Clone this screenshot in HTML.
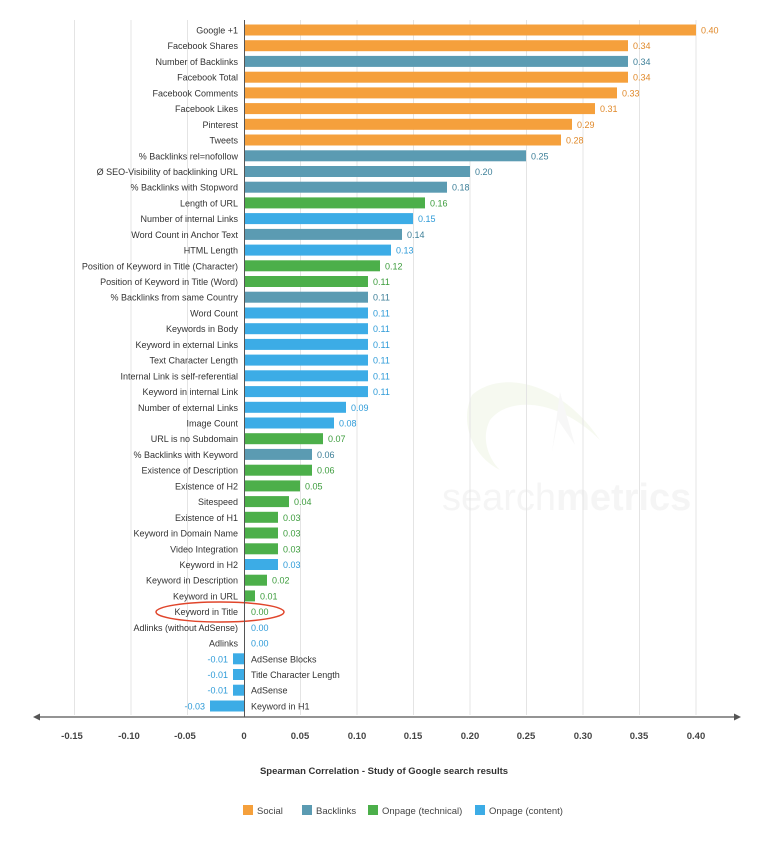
<!DOCTYPE html>
<html><head><meta charset="utf-8"><style>
html,body{margin:0;padding:0;background:#fff;}
svg{display:block;font-family:"Liberation Sans","DejaVu Sans",sans-serif;}
.l{font-size:9px;fill:#333;text-anchor:end}
.r{font-size:9px;fill:#333}
.vs{font-size:9px;fill:#e0892a}
.vb{font-size:9px;fill:#3d7f98}
.vg{font-size:9px;fill:#3c9c3c}
.vc{font-size:9px;fill:#2e9bd8}
.s{fill:#f5a03c}.b{fill:#5b9bb2}.g{fill:#4caf4a}.c{fill:#3cace6}
</style></head><body>
<svg width="768" height="850" viewBox="0 0 768 850">
<g opacity="0.35">
<path d="M472,395 C500,370 560,380 600,440 C560,400 510,395 490,420 C480,440 490,460 500,470 C470,455 460,420 472,395Z" fill="#e6efd6"/>
<path d="M560,392 L575,445 L558,420 L552,452 Z" fill="#eaeaea"/>
<text x="442" y="510" font-size="38" fill="#e4e4e4" font-family="Liberation Sans,sans-serif">search<tspan font-weight="bold">metrics</tspan></text>
</g>
<g stroke="#e4e4e4" stroke-width="1">
<line x1="74.5" y1="20" x2="74.5" y2="715"/><line x1="131" y1="20" x2="131" y2="715"/><line x1="187.5" y1="20" x2="187.5" y2="715"/>
<line x1="300.5" y1="20" x2="300.5" y2="715"/><line x1="357" y1="20" x2="357" y2="715"/><line x1="413.5" y1="20" x2="413.5" y2="715"/>
<line x1="470" y1="20" x2="470" y2="715"/><line x1="526.5" y1="20" x2="526.5" y2="715"/><line x1="583" y1="20" x2="583" y2="715"/>
<line x1="639.5" y1="20" x2="639.5" y2="715"/><line x1="696" y1="20" x2="696" y2="715"/>
</g>
<g>
<g transform="translate(0,30)"><text class="l" x="238" y="3.5">Google +1</text><rect class="s" x="244" y="-5.5" width="452" height="11"/><text class="vs" x="701" y="3.5">0.40</text></g>
<g transform="translate(0,45.7)"><text class="l" x="238" y="3.5">Facebook Shares</text><rect class="s" x="244" y="-5.5" width="384" height="11"/><text class="vs" x="633" y="3.5">0.34</text></g>
<g transform="translate(0,61.4)"><text class="l" x="238" y="3.5">Number of Backlinks</text><rect class="b" x="244" y="-5.5" width="384" height="11"/><text class="vb" x="633" y="3.5">0.34</text></g>
<g transform="translate(0,77.2)"><text class="l" x="238" y="3.5">Facebook Total</text><rect class="s" x="244" y="-5.5" width="384" height="11"/><text class="vs" x="633" y="3.5">0.34</text></g>
<g transform="translate(0,92.9)"><text class="l" x="238" y="3.5">Facebook Comments</text><rect class="s" x="244" y="-5.5" width="373" height="11"/><text class="vs" x="622" y="3.5">0.33</text></g>
<g transform="translate(0,108.6)"><text class="l" x="238" y="3.5">Facebook Likes</text><rect class="s" x="244" y="-5.5" width="351" height="11"/><text class="vs" x="600" y="3.5">0.31</text></g>
<g transform="translate(0,124.3)"><text class="l" x="238" y="3.5">Pinterest</text><rect class="s" x="244" y="-5.5" width="328" height="11"/><text class="vs" x="577" y="3.5">0.29</text></g>
<g transform="translate(0,140)"><text class="l" x="238" y="3.5">Tweets</text><rect class="s" x="244" y="-5.5" width="317" height="11"/><text class="vs" x="566" y="3.5">0.28</text></g>
<g transform="translate(0,155.8)"><text class="l" x="238" y="3.5">% Backlinks rel=nofollow</text><rect class="b" x="244" y="-5.5" width="282" height="11"/><text class="vb" x="531" y="3.5">0.25</text></g>
<g transform="translate(0,171.5)"><text class="l" x="238" y="3.5">Ø SEO-Visibility of backlinking URL</text><rect class="b" x="244" y="-5.5" width="226" height="11"/><text class="vb" x="475" y="3.5">0.20</text></g>
<g transform="translate(0,187.2)"><text class="l" x="238" y="3.5">% Backlinks with Stopword</text><rect class="b" x="244" y="-5.5" width="203" height="11"/><text class="vb" x="452" y="3.5">0.18</text></g>
<g transform="translate(0,202.9)"><text class="l" x="238" y="3.5">Length of URL</text><rect class="g" x="244" y="-5.5" width="181" height="11"/><text class="vg" x="430" y="3.5">0.16</text></g>
<g transform="translate(0,218.6)"><text class="l" x="238" y="3.5">Number of internal Links</text><rect class="c" x="244" y="-5.5" width="169" height="11"/><text class="vc" x="418" y="3.5">0.15</text></g>
<g transform="translate(0,234.4)"><text class="l" x="238" y="3.5">Word Count in Anchor Text</text><rect class="b" x="244" y="-5.5" width="158" height="11"/><text class="vb" x="407" y="3.5">0.14</text></g>
<g transform="translate(0,250.1)"><text class="l" x="238" y="3.5">HTML Length</text><rect class="c" x="244" y="-5.5" width="147" height="11"/><text class="vc" x="396" y="3.5">0.13</text></g>
<g transform="translate(0,265.8)"><text class="l" x="238" y="3.5">Position of Keyword in Title (Character)</text><rect class="g" x="244" y="-5.5" width="136" height="11"/><text class="vg" x="385" y="3.5">0.12</text></g>
<g transform="translate(0,281.5)"><text class="l" x="238" y="3.5">Position of Keyword in Title (Word)</text><rect class="g" x="244" y="-5.5" width="124" height="11"/><text class="vg" x="373" y="3.5">0.11</text></g>
<g transform="translate(0,297.2)"><text class="l" x="238" y="3.5">% Backlinks from same Country</text><rect class="b" x="244" y="-5.5" width="124" height="11"/><text class="vb" x="373" y="3.5">0.11</text></g>
<g transform="translate(0,313)"><text class="l" x="238" y="3.5">Word Count</text><rect class="c" x="244" y="-5.5" width="124" height="11"/><text class="vc" x="373" y="3.5">0.11</text></g>
<g transform="translate(0,328.7)"><text class="l" x="238" y="3.5">Keywords in Body</text><rect class="c" x="244" y="-5.5" width="124" height="11"/><text class="vc" x="373" y="3.5">0.11</text></g>
<g transform="translate(0,344.4)"><text class="l" x="238" y="3.5">Keyword in external Links</text><rect class="c" x="244" y="-5.5" width="124" height="11"/><text class="vc" x="373" y="3.5">0.11</text></g>
<g transform="translate(0,360.1)"><text class="l" x="238" y="3.5">Text Character Length</text><rect class="c" x="244" y="-5.5" width="124" height="11"/><text class="vc" x="373" y="3.5">0.11</text></g>
<g transform="translate(0,375.8)"><text class="l" x="238" y="3.5">Internal Link is self-referential</text><rect class="c" x="244" y="-5.5" width="124" height="11"/><text class="vc" x="373" y="3.5">0.11</text></g>
<g transform="translate(0,391.6)"><text class="l" x="238" y="3.5">Keyword in internal Link</text><rect class="c" x="244" y="-5.5" width="124" height="11"/><text class="vc" x="373" y="3.5">0.11</text></g>
<g transform="translate(0,407.3)"><text class="l" x="238" y="3.5">Number of external Links</text><rect class="c" x="244" y="-5.5" width="102" height="11"/><text class="vc" x="351" y="3.5">0.09</text></g>
<g transform="translate(0,423)"><text class="l" x="238" y="3.5">Image Count</text><rect class="c" x="244" y="-5.5" width="90" height="11"/><text class="vc" x="339" y="3.5">0.08</text></g>
<g transform="translate(0,438.7)"><text class="l" x="238" y="3.5">URL is no Subdomain</text><rect class="g" x="244" y="-5.5" width="79" height="11"/><text class="vg" x="328" y="3.5">0.07</text></g>
<g transform="translate(0,454.4)"><text class="l" x="238" y="3.5">% Backlinks with Keyword</text><rect class="b" x="244" y="-5.5" width="68" height="11"/><text class="vb" x="317" y="3.5">0.06</text></g>
<g transform="translate(0,470.2)"><text class="l" x="238" y="3.5">Existence of Description</text><rect class="g" x="244" y="-5.5" width="68" height="11"/><text class="vg" x="317" y="3.5">0.06</text></g>
<g transform="translate(0,485.9)"><text class="l" x="238" y="3.5">Existence of H2</text><rect class="g" x="244" y="-5.5" width="56" height="11"/><text class="vg" x="305" y="3.5">0.05</text></g>
<g transform="translate(0,501.6)"><text class="l" x="238" y="3.5">Sitespeed</text><rect class="g" x="244" y="-5.5" width="45" height="11"/><text class="vg" x="294" y="3.5">0.04</text></g>
<g transform="translate(0,517.3)"><text class="l" x="238" y="3.5">Existence of H1</text><rect class="g" x="244" y="-5.5" width="34" height="11"/><text class="vg" x="283" y="3.5">0.03</text></g>
<g transform="translate(0,533)"><text class="l" x="238" y="3.5">Keyword in Domain Name</text><rect class="g" x="244" y="-5.5" width="34" height="11"/><text class="vg" x="283" y="3.5">0.03</text></g>
<g transform="translate(0,548.8)"><text class="l" x="238" y="3.5">Video Integration</text><rect class="g" x="244" y="-5.5" width="34" height="11"/><text class="vg" x="283" y="3.5">0.03</text></g>
<g transform="translate(0,564.5)"><text class="l" x="238" y="3.5">Keyword in H2</text><rect class="c" x="244" y="-5.5" width="34" height="11"/><text class="vc" x="283" y="3.5">0.03</text></g>
<g transform="translate(0,580.2)"><text class="l" x="238" y="3.5">Keyword in Description</text><rect class="g" x="244" y="-5.5" width="23" height="11"/><text class="vg" x="272" y="3.5">0.02</text></g>
<g transform="translate(0,595.9)"><text class="l" x="238" y="3.5">Keyword in URL</text><rect class="g" x="244" y="-5.5" width="11" height="11"/><text class="vg" x="260" y="3.5">0.01</text></g>
<g transform="translate(0,611.6)"><text class="l" x="238" y="3.5">Keyword in Title</text><text class="vg" x="251" y="3.5">0.00</text></g>
<g transform="translate(0,627.4)"><text class="l" x="238" y="3.5">Adlinks (without AdSense)</text><text class="vc" x="251" y="3.5">0.00</text></g>
<g transform="translate(0,643.1)"><text class="l" x="238" y="3.5">Adlinks</text><text class="vc" x="251" y="3.5">0.00</text></g>
<g transform="translate(0,658.8)"><text class="vc" x="228" y="3.5" text-anchor="end">-0.01</text><rect class="c" x="233" y="-5.5" width="11" height="11"/><text class="r" x="251" y="3.5">AdSense Blocks</text></g>
<g transform="translate(0,674.5)"><text class="vc" x="228" y="3.5" text-anchor="end">-0.01</text><rect class="c" x="233" y="-5.5" width="11" height="11"/><text class="r" x="251" y="3.5">Title Character Length</text></g>
<g transform="translate(0,690.2)"><text class="vc" x="228" y="3.5" text-anchor="end">-0.01</text><rect class="c" x="233" y="-5.5" width="11" height="11"/><text class="r" x="251" y="3.5">AdSense</text></g>
<g transform="translate(0,706)"><text class="vc" x="205" y="3.5" text-anchor="end">-0.03</text><rect class="c" x="210" y="-5.5" width="34" height="11"/><text class="r" x="251" y="3.5">Keyword in H1</text></g>
</g>
<ellipse cx="220" cy="612" rx="64" ry="10" fill="none" stroke="#e0452b" stroke-width="1.5"/>
<line x1="244.5" y1="20" x2="244.5" y2="717" stroke="#555" stroke-width="1"/>
<line x1="36" y1="717" x2="738" y2="717" stroke="#555" stroke-width="1.3"/>
<path d="M33,717 L40,713.5 L40,720.5Z" fill="#555"/><path d="M741,717 L734,713.5 L734,720.5Z" fill="#555"/>
<g font-size="9.5" font-weight="bold" fill="#444" text-anchor="middle">
<text x="72" y="739">-0.15</text><text x="129" y="739">-0.10</text><text x="185" y="739">-0.05</text><text x="244" y="739">0</text>
<text x="300" y="739">0.05</text><text x="357" y="739">0.10</text><text x="413" y="739">0.15</text><text x="470" y="739">0.20</text>
<text x="526" y="739">0.25</text><text x="583" y="739">0.30</text><text x="639" y="739">0.35</text><text x="696" y="739">0.40</text>
</g>
<text x="384" y="774" font-size="9.5" font-weight="bold" fill="#333" text-anchor="middle">Spearman Correlation - Study of Google search results</text>
<g font-size="9.5" fill="#444">
<rect class="s" x="243" y="805" width="10" height="10"/><text x="257" y="814">Social</text>
<rect class="b" x="302" y="805" width="10" height="10"/><text x="316" y="814">Backlinks</text>
<rect class="g" x="368" y="805" width="10" height="10"/><text x="382" y="814">Onpage (technical)</text>
<rect class="c" x="475" y="805" width="10" height="10"/><text x="489" y="814">Onpage (content)</text>
</g>
</svg>
</body></html>
